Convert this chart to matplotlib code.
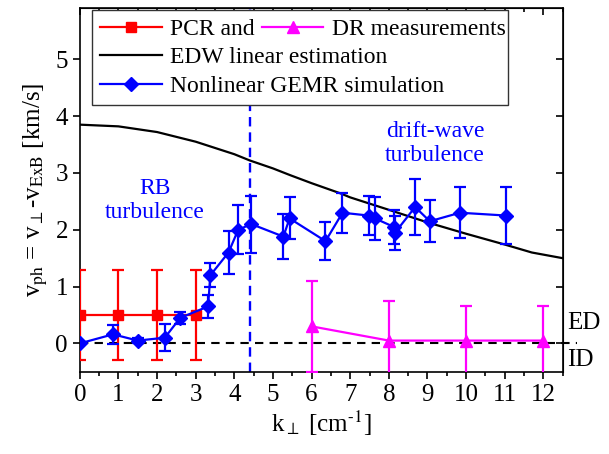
import matplotlib
matplotlib.use("Agg")
import matplotlib.pyplot as plt
from matplotlib.patches import Rectangle
from matplotlib.ticker import MultipleLocator

plt.rcParams['font.family'] = ['Liberation Serif', 'DejaVu Serif']
plt.rcParams['mathtext.fontset'] = 'stix'

# PCR measurements
pcr_k = [0, 1, 2, 3]
pcr_v = [0.5, 0.5, 0.5, 0.5]
pcr_err = [0.8, 0.8, 0.8, 0.8]

# DR measurements
dr_k = [6, 8, 10, 12]
dr_v = [0.3, 0.05, 0.05, 0.05]
dr_err = [0.8, 0.7, 0.6, 0.6]

# EDW linear estimation
edw_k = [0, 1, 2, 3, 4, 4.4, 5, 5.45, 6, 6.75, 7, 8.05, 9, 10, 11, 11.7, 12.5]
edw_v = [3.85, 3.82, 3.72, 3.55, 3.33, 3.22, 3.08, 2.96, 2.82, 2.64, 2.57, 2.34,
         2.13, 1.93, 1.74, 1.6, 1.5]

# Nonlinear GEMR simulation
gemr_k = [0, 0.86, 1.5, 2.2, 2.6, 3.32, 3.38, 3.85, 4.1, 4.44, 5.27, 5.43,
          6.36, 6.8, 7.48, 7.64, 8.13, 8.16, 8.68, 9.06, 9.84, 11.04]
gemr_v = [0.0, 0.16, 0.05, 0.1, 0.45, 0.65, 1.2, 1.6, 2.0, 2.1, 1.88, 2.2,
          1.8, 2.3, 2.25, 2.2, 2.05, 1.95, 2.4, 2.15, 2.3, 2.25]
gemr_err = [0.0, 0.17, 0.05, 0.24, 0.11, 0.21, 0.21, 0.37, 0.43, 0.5, 0.4, 0.37,
            0.33, 0.35, 0.35, 0.38, 0.3, 0.3, 0.5, 0.37, 0.45, 0.5]

fig = plt.figure(figsize=(6.09, 4.54), dpi=100)
ax = fig.add_axes([0.131, 0.181, 0.793, 0.801])

ax.axhline(0, color='black', ls=(0, (4, 3)), lw=1.5, xmin=0, xmax=1.03, clip_on=False, zorder=1)
ax.axvline(4.4, color='blue', ls=(0, (4, 2.5)), lw=1.7, zorder=1)

edw_line, = ax.plot(edw_k, edw_v, color='black', lw=1.6, zorder=2)

l_pcr = ax.errorbar(pcr_k, pcr_v, yerr=pcr_err, color='red', marker='s', ms=7,
                    lw=1.6, capsize=4, capthick=1.6, elinewidth=1.6, zorder=3)
l_dr = ax.errorbar(dr_k, dr_v, yerr=dr_err, color='magenta', marker='^', ms=9,
                   lw=1.6, capsize=4, capthick=1.6, elinewidth=1.6, zorder=3)
l_gemr = ax.errorbar(gemr_k, gemr_v, yerr=gemr_err, color='blue', marker='D', ms=7,
                     lw=1.6, capsize=4, capthick=1.6, elinewidth=1.6, zorder=4)

ax.set_xlim(0, 12.5)
ax.set_ylim(-0.5, 5.9)
ax.xaxis.set_major_locator(MultipleLocator(1))
ax.xaxis.set_minor_locator(MultipleLocator(0.5))
ax.yaxis.set_major_locator(MultipleLocator(1))
ax.tick_params(axis='both', which='major', labelsize=18, length=5, width=1.2)
ax.tick_params(axis='x', which='minor', length=3, width=1.2)
ax.tick_params(axis='both', which='both', direction='out')
for sp in ax.spines.values():
    sp.set_linewidth(1.2)

top = ax.secondary_xaxis('top')
top.xaxis.set_major_locator(MultipleLocator(1))
top.xaxis.set_minor_locator(MultipleLocator(0.5))
top.tick_params(which='major', direction='in', length=5, width=1.2, labeltop=False)
top.tick_params(which='minor', direction='in', length=3, width=1.2)
right = ax.secondary_yaxis('right')
right.yaxis.set_major_locator(MultipleLocator(1))
right.tick_params(direction='in', length=5, width=1.2, labelright=False)

ax.set_xlabel(r'k$_{\perp}$ [cm$^{\text{-1}}$]', fontsize=18, labelpad=2)
ax.set_ylabel(r'v$_{\rm ph}$ = v$_{\perp}$-v$_{\rm ExB}$ [km/s]', fontsize=18, labelpad=4)

ax.text(1.95, 2.52, 'RB\nturbulence', color='blue', fontsize=17, ha='center',
        va='center', linespacing=1.2)
ax.text(9.2, 3.52, 'drift-wave\nturbulence', color='blue', fontsize=17, ha='center',
        va='center', linespacing=1.2)
ax.text(1.01, 0.36, 'ED', transform=ax.get_yaxis_transform(), fontsize=18,
        va='center', ha='left')
ax.text(1.01, -0.3, 'ID', transform=ax.get_yaxis_transform(), fontsize=18,
        va='center', ha='left')

leg_kw = dict(fontsize=17, handlelength=2.6, borderpad=0.35, labelspacing=0.3,
              handletextpad=0.35, borderaxespad=0, loc='upper left', frameon=False)
leg1 = ax.legend([l_pcr[0], edw_line, l_gemr[0]],
                 ['PCR and', 'EDW linear estimation', 'Nonlinear GEMR simulation'],
                 bbox_to_anchor=(0.025, 0.995), **leg_kw)
ax.add_artist(leg1)
leg2 = ax.legend([l_dr[0]], ['DR measurements'], bbox_to_anchor=(0.36, 0.995),
                 **leg_kw)

# one shared frame around both legends
fig.canvas.draw()
r = fig.canvas.get_renderer()
inv = ax.transAxes.inverted()
b1 = leg1.get_window_extent(r).transformed(inv)
b2 = leg2.get_window_extent(r).transformed(inv)
x1 = max(b1.x1, b2.x1) - 0.012
ax.add_patch(Rectangle((b1.x0, b1.y0), x1 - b1.x0, b1.y1 - b1.y0,
                       transform=ax.transAxes, facecolor='white',
                       edgecolor='#333333', lw=1.0, zorder=4.5))

fig.savefig('out.png', dpi=100)
